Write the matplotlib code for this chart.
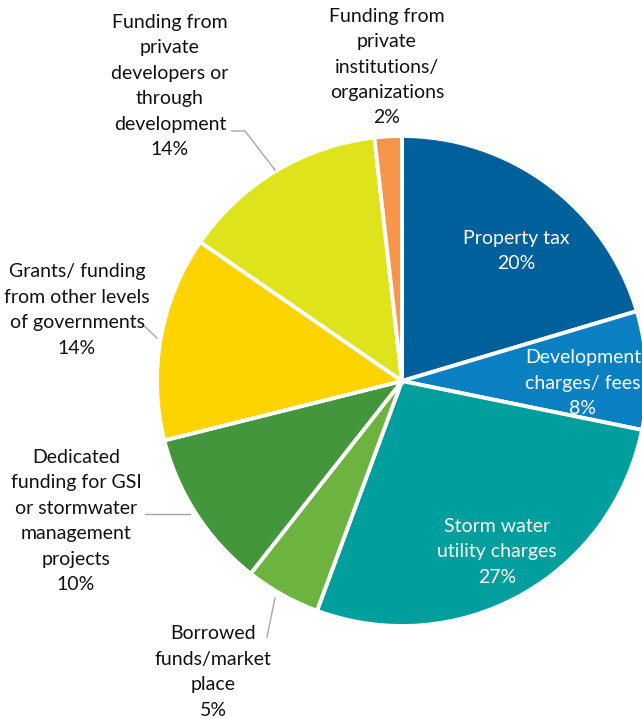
import matplotlib.pyplot as plt

# ---------------------------------------------------------------- data
labels = [
    "Property tax",
    "Development\ncharges/ fees",
    "Storm water\nutility charges",
    "Borrowed\nfunds/market\nplace",
    "Dedicated\nfunding for GSI\nor stormwater\nmanagement\nprojects",
    "Grants/ funding\nfrom other levels\nof governments",
    "Funding from\nprivate\ndevelopers or\nthrough\ndevelopment",
    "Funding from\nprivate\ninstitutions/\norganizations",
]
# shares (labels show them rounded)
shares = [20.4, 7.8, 27.44, 4.96, 10.5, 13.5, 13.6, 1.8]
colors = ["#00609C", "#0A7FC2", "#009E9C", "#6CB33F",
          "#43963C", "#FDD300", "#DFE31B", "#F7964A"]

# label anchor (pixel coords, y from top) + whether label sits inside
label_pos = [(516, 251, True), (583, 383, True), (497, 552, True),
             (213, 672, False), (76, 521, False), (77, 310, False),
             (170, 86, False), (387, 67, False)]
leaders = [None, None, None,
           [(275, 598), (267, 637)],
           [(145, 514), (190, 514)],
           [(140, 322), (157, 338)],
           [(232, 131), (245, 131), (275, 170)],
           None]

W, H = 642, 719
fig = plt.figure(figsize=(W / 100, H / 100), dpi=100)
ax = fig.add_axes([0, 0, 1, 1])

ax.pie(shares, colors=colors, startangle=90, counterclock=False,
       center=(402, H - 381), radius=245, frame=True,
       wedgeprops=dict(edgecolor="white", linewidth=2.8))
ax.set_xlim(0, W)
ax.set_ylim(0, H)
ax.set_aspect("equal")
ax.axis("off")

for lab, val, (x, y, inside), ld in zip(labels, shares, label_pos, leaders):
    ax.text(x, H - y, f"{lab}\n{round(val)}%", ha="center", va="center",
            fontsize=14, family="Lato", linespacing=1.6,
            color="white" if inside else "#111111")
    if ld:
        ax.plot([p[0] for p in ld], [H - p[1] for p in ld],
                color="#A6A6A6", lw=1.0)

fig.savefig("out.png", dpi=100)
